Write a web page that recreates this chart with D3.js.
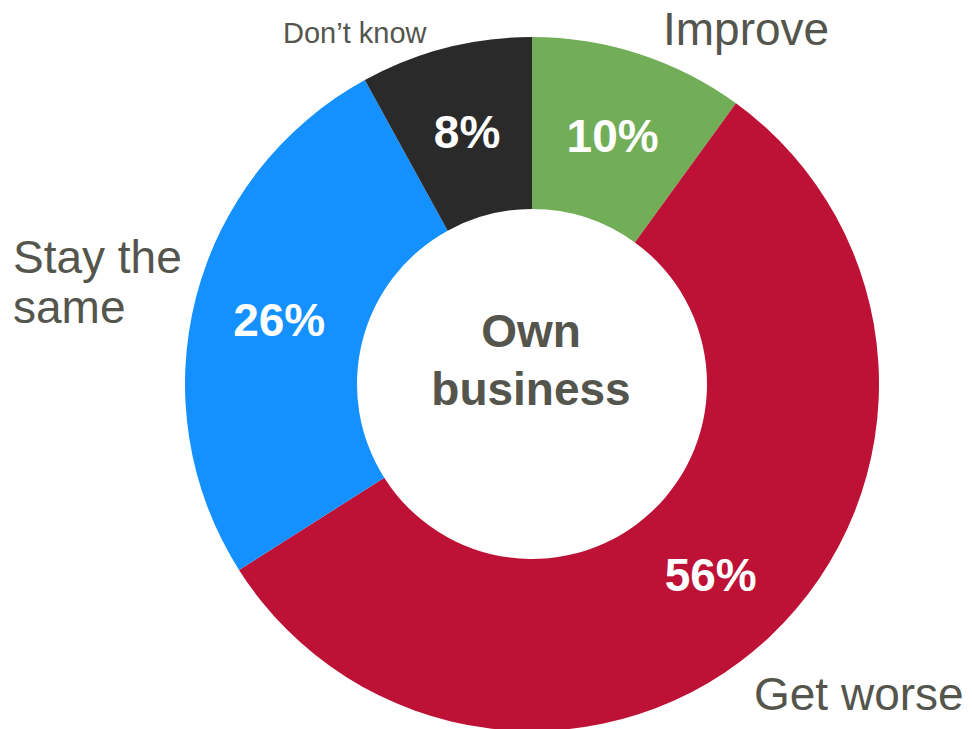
<!DOCTYPE html>
<html>
<head>
<meta charset="utf-8">
<script src="https://cdnjs.cloudflare.com/ajax/libs/d3/7.8.5/d3.min.js"></script>
<style>
    body { margin: 0; background: #ffffff; }
    svg text { font-family: "Liberation Sans", Arial, sans-serif; }
</style>
</head>
<body>
<div id="donut-chart"></div>
<script>
// data
var categories = ["Improve", "Get worse", "Stay the same", "Don\u2019t know"];
var proportions = [10, 56, 26, 8];
var sliceColors = ["#72ad57", "#bd1135", "#1591ff", "#2a2a2a"];
var centerLines = ["Own", "business"];

var width = 972,
    height = 729;

var svg = d3.select("#donut-chart").append("svg")
    .attr("width", width)
    .attr("height", height);

var cx = 532,
    cy = 384;

var donutContainer = svg.append("g")
    .attr("class", "donut-chart")
    .attr("transform", "translate(" + cx + "," + cy + ")");

var outerRadius = 347,
    innerRadius = 175;

var donutData = categories.map(function(c, i) {
    return {who: c, proportion: proportions[i]};
});

var pie = d3.pie()
    .sort(null)
    .value(function(d) { return d.proportion; });

var arc = d3.arc()
    .outerRadius(outerRadius)
    .innerRadius(innerRadius);

var color = d3.scaleOrdinal()
    .domain(categories)
    .range(sliceColors);

donutContainer.selectAll(".donut-path")
    .data(pie(donutData))
    .enter().append("path")
    .attr("class", "donut-path")
    .attr("fill", function(d) { return color(d.data.who); })
    .attr("d", arc);

// percentages at the slice centroids
donutContainer.selectAll(".pct")
    .data(pie(donutData))
    .enter().append("text")
    .attr("class", "pct")
    .attr("transform", function(d) { return "translate(" + arc.centroid(d) + ")"; })
    .attr("dy", "0.36em")
    .style("text-anchor", "middle")
    .style("font-size", "46px")
    .style("font-weight", "bold")
    .attr("fill", "#ffffff")
    .text(function(d) { return d.data.proportion + "%"; });

// centre label
donutContainer.selectAll(".center-label")
    .data(centerLines)
    .enter().append("text")
    .attr("class", "center-label")
    .attr("x", -1)
    .attr("y", function(d, i) { return -37 + i * 58; })
    .style("text-anchor", "middle")
    .style("font-size", "46px")
    .style("font-weight", "bold")
    .attr("fill", "#54554d")
    .text(function(d) { return d; });

// outside category labels (positions by hand, as in the original)
var labelPos = {
    "Improve": {x: 663, y: 45, size: 46},
    "Get worse": {x: 754, y: 710, size: 46},
    "Stay the same": {x: 13, y: 273, size: 46},
    "Don\u2019t know": {x: 283, y: 43, size: 29}
};

categories.forEach(function(c) {
    var p = labelPos[c];
    var t = svg.append("text")
        .attr("class", "cat-label")
        .attr("x", p.x)
        .attr("y", p.y)
        .style("font-size", p.size + "px")
        .attr("fill", "#54554d");
    if (c === "Stay the same") {
        t.append("tspan").attr("x", p.x).text("Stay the");
        t.append("tspan").attr("x", p.x).attr("dy", 50).text("same");
    } else {
        t.text(c);
    }
});
</script>
</body>
</html>
